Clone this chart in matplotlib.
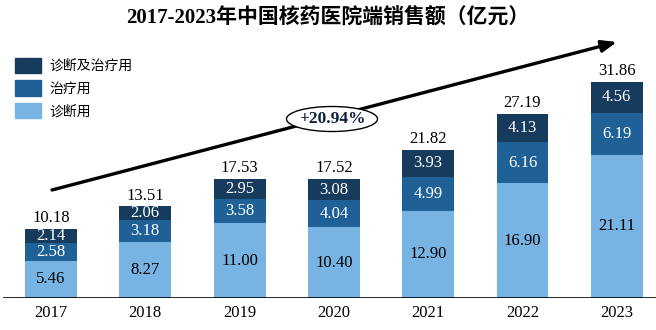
import matplotlib.pyplot as plt
from matplotlib.patches import Ellipse, Patch

plt.rcParams['font.family'] = ['Liberation Serif', 'Noto Sans CJK SC']

years = ['2017', '2018', '2019', '2020', '2021', '2022', '2023']
diag = [5.46, 8.27, 11.00, 10.40, 12.90, 16.90, 21.11]      # 诊断用
treat = [2.58, 3.18, 3.58, 4.04, 4.99, 6.16, 6.19]          # 治疗用
both = [2.14, 2.06, 2.95, 3.08, 3.93, 4.13, 4.56]           # 诊断及治疗用
totals = [10.18, 13.51, 17.53, 17.52, 21.82, 27.19, 31.86]
cagr = '+20.94%'

c_light = '#78b4e3'
c_mid = '#1f6096'
c_dark = '#163b5c'

fig = plt.figure(figsize=(6.56, 3.30), dpi=100)
ax = fig.add_axes([0, 32 / 330, 1, 298 / 330])
ax.set_xlim(-0.541, 6.416)
ax.set_ylim(0, 43.95)
ax.axis('off')

x = range(len(years))
w = 0.55
ax.bar(x, diag, w, color=c_light)
ax.bar(x, treat, w, bottom=diag, color=c_mid)
bot3 = [a + b for a, b in zip(diag, treat)]
ax.bar(x, both, w, bottom=bot3, color=c_dark)

fs = 12
for i in x:
    ax.text(i, diag[i] / 2, f'{diag[i]:.2f}', ha='center', va='center',
            fontsize=fs, color='black')
    ax.text(i, diag[i] + treat[i] / 2, f'{treat[i]:.2f}', ha='center',
            va='center', fontsize=fs, color='white')
    ax.text(i, bot3[i] + both[i] / 2, f'{both[i]:.2f}', ha='center',
            va='center', fontsize=fs, color='white')
    ax.text(i, bot3[i] + both[i] + 0.4, f'{totals[i]:.2f}', ha='center',
            va='bottom', fontsize=fs, color='black')
    ax.text(i, -2.2, years[i], ha='center', va='center', fontsize=fs,
            color='black', clip_on=False)

ax.axhline(0, xmin=4 / 656, xmax=1, color='black', lw=1.2)

# growth arrow across the bars
ax.annotate('', xy=(617 / 656, 1 - 42 / 330), xytext=(52 / 656, 1 - 190 / 330),
            xycoords='figure fraction', textcoords='figure fraction',
            arrowprops=dict(arrowstyle='-|>,head_length=0.9,head_width=0.35',
                            color='black', lw=2.4, shrinkA=0, shrinkB=0))
ell = Ellipse((332 / 656, 1 - 119 / 330), 91 / 656, 25 / 330,
              transform=fig.transFigure, facecolor='white', edgecolor='black',
              lw=1.0, zorder=5)
fig.add_artist(ell)
fig.text(332 / 656, 1 - 119 / 330, cagr, ha='center', va='center',
         fontsize=12.5, fontweight='bold', color='#0d1f3a', zorder=6)

fig.text(0.5, 1 - 18 / 330, '2017-2023年中国核药医院端销售额（亿元）',
         ha='center', va='center', fontsize=15, fontweight='bold')

handles = [Patch(color=c_dark), Patch(color=c_mid), Patch(color=c_light)]
labels = ['诊断及治疗用', '治疗用', '诊断用']
fig.legend(handles, labels, loc='upper left',
           bbox_to_anchor=(2 / 656, 1 - 45 / 330), frameon=False,
           prop={'family': ['Noto Sans CJK SC'], 'size': 10},
           handlelength=1.9, handleheight=1.3, handletextpad=0.6,
           labelspacing=0.55)

fig.savefig('out.png', dpi=100)
